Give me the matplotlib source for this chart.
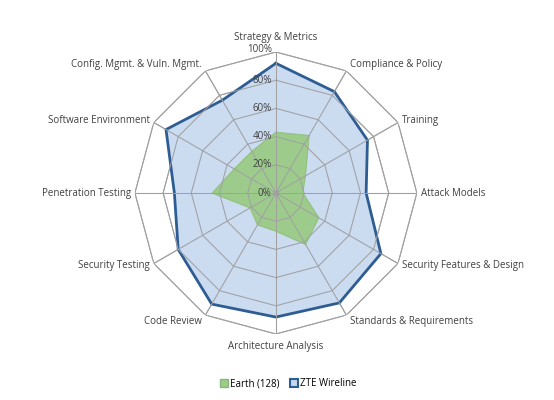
import numpy as np
import matplotlib.pyplot as plt
from matplotlib.patches import Patch

categories = ['Strategy & Metrics', 'Compliance & Policy', 'Training', 'Attack Models',
              'Security Features & Design', 'Standards & Requirements',
              'Architecture Analysis', 'Code Review', 'Security Testing',
              'Penetration Testing', 'Software Environment', 'Config. Mgmt. & Vuln. Mgmt.']
earth = [0.43, 0.47, 0.24, 0.19, 0.35, 0.42, 0.27, 0.26, 0.21, 0.45, 0.34, 0.34]
zte = [0.92, 0.83, 0.75, 0.64, 0.86, 0.90, 0.88, 0.91, 0.80, 0.72, 0.90, 0.76]
levels = [0, 0.2, 0.4, 0.6, 0.8, 1.0]
level_labels = ['0%', '20%', '40%', '60%', '80%', '100%']

plt.rcParams['font.family'] = ['Open Sans', 'DejaVu Sans']

fig = plt.figure(figsize=(5.54, 4.0), dpi=100)
ax = fig.add_axes([0.2435, 0.165, 0.509, 0.705], projection='polar')
ax.set_theta_offset(np.pi / 2)
ax.set_theta_direction(-1)
ax.set_ylim(0, 1)
ax.grid(False)
ax.spines['polar'].set_visible(False)
ax.set_xticks([])
ax.set_yticks([])

n = len(categories)
ang = np.arange(n) * 2 * np.pi / n
ang_c = np.append(ang, ang[0])

# outer ring and grid under the fills
for lv in levels[1:]:
    ax.plot(ang_c, [lv] * (n + 1), color='#a6a6a6', lw=0.8, zorder=1)
for a in ang:
    ax.plot([a, a], [0, 1], color='#a6a6a6', lw=0.8, zorder=1)

def closed(v):
    return list(v) + [v[0]]

ax.fill(ang_c, closed(zte), color='#c6d7ef', alpha=0.9, zorder=2)
ax.plot(ang_c, closed(zte), color='#2e5d93', lw=2.0, zorder=4)
ax.fill(ang_c, closed(earth), color='#9ccb8c', zorder=3)
ax.plot(ang_c, closed(earth), color='#8fc17f', lw=0.6, zorder=3)

# grid again on top of fills
for a in ang:
    ax.plot([a, a], [0, 1], color='#a0a0a0', lw=0.7, zorder=5)
for lv in levels[1:]:
    ax.plot(ang_c, [lv] * (n + 1), color='#a0a0a0', lw=0.7, zorder=5)
ax.plot(0, 0, 'o', color='#a0a0a0', ms=3, zorder=6)

for lv, lab in zip(levels, level_labels):
    ax.annotate(lab, xy=(0, lv), xytext=(-3, 2 if lv == 1.0 else 0),
                textcoords='offset points', ha='right', va='center',
                fontsize=7, color='#404040', zorder=7)

for a, lab in zip(ang, categories):
    deg = np.degrees(a) % 360
    s = np.sin(a)
    if abs(s) < 1e-6:
        ha = 'center'
        r = 1.1 if deg < 90 else 1.09
    else:
        ha = 'left' if s > 0 else 'right'
        r = 1.05 if abs(np.cos(a)) > 0.8 else 1.03
    ax.text(a, r, lab, ha=ha, va='center', fontsize=7, color='#404040', zorder=7)

handles = [Patch(facecolor='#9ccb8c', edgecolor='#86b977', label='Earth (128)'),
           Patch(facecolor='#c6d7ef', edgecolor='#2e5d93', linewidth=1.5, label='ZTE Wireline')]
fig.legend(handles=handles, loc='center', bbox_to_anchor=(0.52, 0.04), ncol=2,
           frameon=False, fontsize=7, handlelength=0.8, handleheight=0.8,
           handletextpad=0.2, columnspacing=1.1)

fig.savefig('out.png', dpi=100)
